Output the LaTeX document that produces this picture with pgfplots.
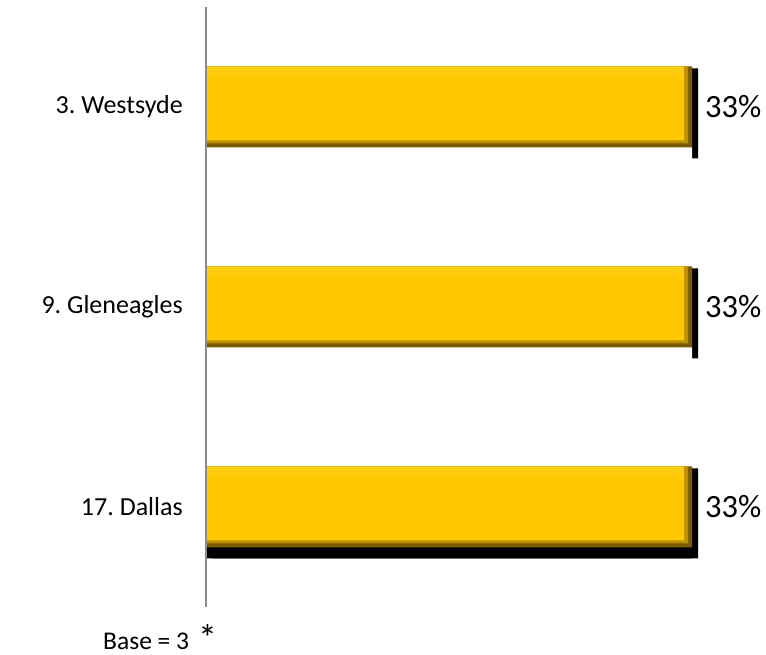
\documentclass[border=0pt]{standalone}
\usepackage{pgfplots}
\usepackage{pgfplotstable}
\pgfplotsset{compat=1.18}
\usepackage{fontspec}
\setmainfont{Carlito}
\definecolor{gold}{HTML}{FFC800}
\definecolor{goldtop}{HTML}{FFCD12}
\definecolor{goldmid}{HTML}{BE9000}
\definecolor{golddark}{HTML}{7A5B00}
\definecolor{axgray}{HTML}{8C8C8C}
\pgfplotstableread{
row value
0 33
1 33
2 33
}\shares
\begin{document}
\frenchspacing
\begin{tikzpicture}
\path[use as bounding box] (-206pt,-48pt) rectangle (560pt,607pt);
\begin{axis}[
  at={(0pt,0pt)}, anchor=south west,
  scale only axis, width=560pt, height=600pt,
  xmin=0, xmax=38.0247, ymin=-0.5, ymax=2.5,
  hide x axis,
  axis y line*=left,
  axis on top,
  y axis line style={draw=axgray, line width=2.5pt},
  ytick={0,1,2},
  yticklabels={17. Dallas, 9. Gleneagles, 3. Westsyde},
  ytick style={draw=none},
  major tick length=0pt,
  yticklabel style={font=\fontsize{26}{31}\selectfont, inner sep=0pt, xshift=-23pt},
  xbar, bar width=81pt, bar shift=0pt,
  /pgf/number format/assume math mode=true,
  point meta=x,
  every node near coord/.append style={font=\fontsize{32.5}{38}\selectfont, inner sep=0pt, xshift=13pt, yshift=0pt, text=black, anchor=west},
]
% shadow
\addplot[xbar, fill=black, draw=none, bar width=90pt, bar shift=-6.5pt, xshift=6pt] table[x=value, y=row] {\shares};
\addplot[xbar, fill=black, draw=none, bar width=90pt, bar shift=-6.5pt] table[x=value, y=row] {\shares};
% mask the lower shadow strip under the upper two bars
\addplot[xbar, bar width=14pt, bar shift=-47pt, fill=white, draw=none] coordinates {(33,1) (33,2)};
% bevel layers
\addplot[xbar, fill=golddark, draw=none,
  nodes near coords={\pgfmathprintnumber{\pgfplotspointmeta}\%}] table[x=value, y=row] {\shares};
\addplot[xbar, fill=goldmid, draw=none, bar width=77pt, bar shift=2pt, xshift=-4pt] table[x=value, y=row] {\shares};
\addplot[xbar, fill=goldtop, draw=none, bar width=73pt, bar shift=4pt, xshift=-8pt] table[x=value, y=row] {\shares};
\addplot[xbar, fill=gold, draw=none, bar width=66pt, bar shift=-0.5pt, xshift=-8pt] table[x=value, y=row] {\shares};
\end{axis}
\node[anchor=base west, inner sep=0pt, font=\fontsize{25.5}{30}\selectfont] at (-103pt,-43pt) {Base = 3};
\node[anchor=base west, inner sep=0pt, text depth=0pt, font=\fontsize{38}{38}\selectfont] at (-8pt,-45pt) {*};
\end{tikzpicture}
\end{document}
